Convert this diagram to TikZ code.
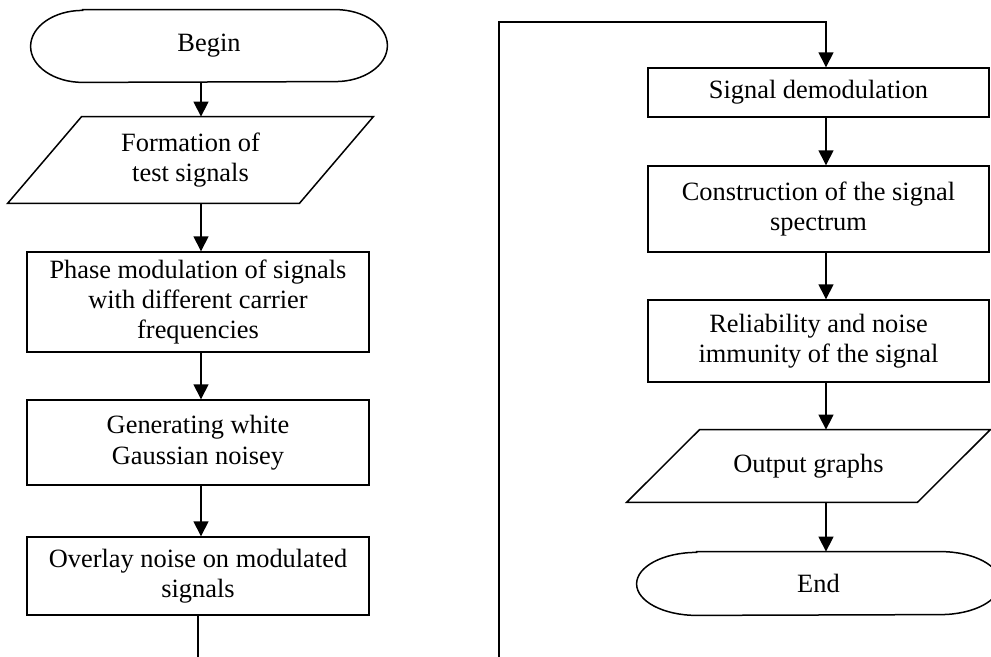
\documentclass[tikz,border=0pt]{standalone}
\usepackage{fontspec}
\setmainfont{Liberation Serif}
\usetikzlibrary{arrows.meta}
\begin{document}
\begin{tikzpicture}[x=0.5pt,y=-0.5pt,
  flow/.style={line width=0.75pt},
  arr/.style={flow,-{Triangle[length=7.5pt,width=7.5pt]}},
  txt/.style={align=center,font=\fontsize{13.2}{15.2}\selectfont,inner sep=0pt},
  procbox/.style={txt,draw,line width=0.7pt},
  leftbox/.style={procbox,minimum width=171pt},
  rightbox/.style={procbox,minimum width=170.5pt}
]
\clip (0,0) rectangle (991,657);

% ---------------- left column ----------------
\node[txt,minimum width=178pt,minimum height=36pt] (begin) at (209,46) {Begin};
\draw[flow] ([xshift=26pt]begin.north west) -- ([xshift=-26pt]begin.north east)
  arc[start angle=90,end angle=-90,x radius=26pt,y radius=18pt]
  -- ([xshift=26pt]begin.south west)
  arc[start angle=270,end angle=90,x radius=26pt,y radius=18pt] -- cycle;

\node[txt,minimum width=182.5pt,minimum height=43pt] (form) at (190.5,160) {Formation of\\test signals};
\draw[flow] ([xshift=37pt]form.north west) -- (form.north east)
  -- ([xshift=-37pt]form.south east) -- (form.south west) -- cycle;

\node[leftbox,minimum height=50pt] (phase) at (198,302)
  {Phase modulation of signals\\with different carrier\\frequencies};
\node[leftbox,minimum height=42.5pt] (noise) at (198,442.5)
  {Generating white\\Gaussian noisey};
\node[leftbox,minimum height=39pt] (overlay) at (198,576)
  {Overlay noise on modulated\\signals};

\coordinate (lx) at (201,0);
\coordinate (lout) at (198,670);
\draw[arr] (begin.south -| lx) -- (form.north -| lx);
\draw[arr] (form.south -| lx) -- (phase.north -| lx);
\draw[arr] (phase.south -| lx) -- (noise.north -| lx);
\draw[arr] (noise.south -| lx) -- (overlay.north -| lx);
\draw[flow] (overlay.south -| lout) -- (lout);

% ---------------- right column ----------------
\node[rightbox,minimum height=24.5pt] (demod) at (818.5,92.5) {Signal demodulation};
\node[rightbox,minimum height=43pt] (spec) at (818.5,209)
  {Construction of the signal\\spectrum};
\node[rightbox,minimum height=41pt] (rel) at (818.5,341)
  {Reliability and noise\\immunity of the signal};

\node[txt,minimum width=181.5pt,minimum height=36pt] (out) at (808.5,466) {Output graphs};
\draw[flow] ([xshift=36.5pt]out.north west) -- (out.north east)
  -- ([xshift=-36.5pt]out.south east) -- (out.south west) -- cycle;

\node[txt,minimum width=181.5pt,minimum height=31.5pt] (end) at (818.5,583.5) {End};
\draw[flow] ([xshift=30pt]end.north west) -- ([xshift=-30pt]end.north east)
  arc[start angle=90,end angle=-90,x radius=30pt,y radius=15.75pt]
  -- ([xshift=30pt]end.south west)
  arc[start angle=270,end angle=90,x radius=30pt,y radius=15.75pt] -- cycle;

\coordinate (rx) at (826,0);
\coordinate (rin) at (499,670);
\coordinate (rtop) at (499,22);
\draw[arr] (rin) -- (rtop) -| (demod.north -| rx);
\draw[arr] (demod.south -| rx) -- (spec.north -| rx);
\draw[arr] (spec.south -| rx) -- (rel.north -| rx);
\draw[arr] (rel.south -| rx) -- (out.north -| rx);
\draw[arr] (out.south -| rx) -- (end.north -| rx);
\end{tikzpicture}
\end{document}
